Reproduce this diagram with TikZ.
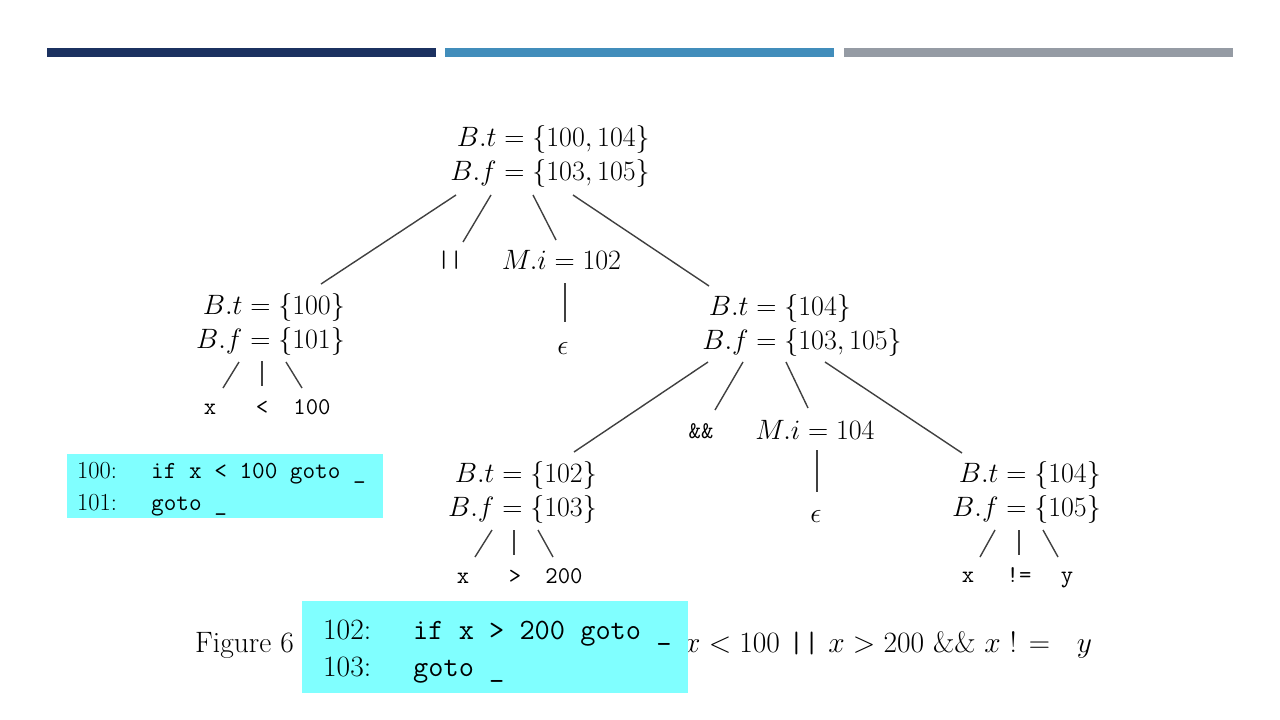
\RequirePackage{fix-cm}
\documentclass[tikz,border=0pt]{standalone}
\usetikzlibrary{calc}
\definecolor{barnavy}{HTML}{1B3160}
\definecolor{barblue}{HTML}{418DBB}
\definecolor{bargray}{HTML}{959BA4}
\definecolor{boxcyan}{HTML}{80FFFF}
\begin{document}
\begin{tikzpicture}[x=1pt,y=-1pt,
  attr/.style={inner sep=0pt, font=\fontsize{28}{34}\selectfont},
  leaf/.style={inner sep=0pt, text height=14.6pt, text depth=0pt, font=\ttfamily\fontsize{24}{28}\selectfont},
  edge/.style={draw=black!75, line width=1.4pt},
  codetxt/.style={inner sep=0pt, anchor=base west, font=\fontsize{24.5}{28}\selectfont},
  bigcode/.style={inner sep=0pt, anchor=base west, font=\fontsize{29.5}{34}\selectfont},
  captxt/.style={inner sep=0pt, anchor=base west, font=\fontsize{29.5}{34}\selectfont},
]
\useasboundingbox (0,0) rectangle (1280,720);
\fill[white] (0,0) rectangle (1280,720);
% header bars
\fill[barnavy] (47,48) rectangle (436,57);
\fill[barblue] (445,48) rectangle (834,57);
\fill[bargray] (844,48) rectangle (1233,57);

% tree nodes
\node[attr] (root) at (550,157) {$\begin{array}{@{}r@{}l@{}} B.t & {}=\{100,104\}\\ B.f & {}=\{103,105\}\end{array}$};
\node[attr] (L) at (270.5,325) {$\begin{array}{@{}r@{}l@{}} B.t & {}=\{100\}\\ B.f & {}=\{101\}\end{array}$};
\node[attr] (R) at (802,325.5) {$\begin{array}{@{}r@{}l@{}} B.t & {}=\{104\}\\ B.f & {}=\{103,105\}\end{array}$};
\node[attr] (N1) at (522.5,492.5) {$\begin{array}{@{}r@{}l@{}} B.t & {}=\{102\}\\ B.f & {}=\{103\}\end{array}$};
\node[attr] (N2) at (1026.5,493) {$\begin{array}{@{}r@{}l@{}} B.t & {}=\{104\}\\ B.f & {}=\{105\}\end{array}$};
\node[leaf] (or) at (450,260) {||};
\node[attr] (M1) at (561.5,260) {$M.i=102$};
\node[attr] (e1) at (563,348) {$\epsilon$};
\node[leaf] (and) at (701,431) {\&\&};
\node[attr] (M2) at (815,430) {$M.i=104$};
\node[attr] (e2) at (816,516) {$\epsilon$};
\node[leaf] (Lx) at (210,407) {x};
\node[leaf] (Llt) at (262,407) {<};
\node[leaf] (Lnum) at (312,407) {100};
\node[leaf] (N1x) at (463,576) {x};
\node[leaf] (N1gt) at (515,576) {>};
\node[leaf] (N1num) at (564,576) {200};
\node[leaf] (N2x) at (968,575) {x};
\node[leaf] (N2ne) at (1019,575) {!=};
\node[leaf] (N2y) at (1067,575) {y};

% connectors
\draw[edge] ($(root)+(-94,38)$) -- ($(L)+(50.5,-41)$);
\draw[edge] ($(root)+(-59,38)$) -- ($(or)+(13,-18)$);
\draw[edge] ($(root)+(-17,38)$) -- ($(M1)+(-5.5,-20)$);
\draw[edge] ($(root)+(23,38)$) -- ($(R)+(-93,-39.5)$);
\draw[edge] ($(M1)+(3.5,23)$) -- ($(e1)+(2,-26)$);
\draw[edge] ($(L)+(-31.5,37)$) -- ($(Lx)+(13,-19)$);
\draw[edge] ($(L)+(-8.5,36)$) -- ($(Llt)+(0,-21)$);
\draw[edge] ($(L)+(15.5,37)$) -- ($(Lnum)+(-10,-19)$);
\draw[edge] ($(R)+(-94,36.5)$) -- ($(N1)+(51.5,-40.5)$);
\draw[edge] ($(R)+(-59,36.5)$) -- ($(and)+(14,-21)$);
\draw[edge] ($(R)+(-16,36.5)$) -- ($(M2)+(-7,-22)$);
\draw[edge] ($(R)+(23,36.5)$) -- ($(N2)+(-64.5,-40)$);
\draw[edge] ($(M2)+(2,20)$) -- ($(e2)+(1,-24)$);
\draw[edge] ($(N1)+(-30.5,37.5)$) -- ($(N1x)+(12,-19)$);
\draw[edge] ($(N1)+(-8.5,37.5)$) -- ($(N1gt)+(-1,-21)$);
\draw[edge] ($(N1)+(15.5,37.5)$) -- ($(N1num)+(-11,-19)$);
\draw[edge] ($(N2)+(-31.5,37)$) -- ($(N2x)+(12,-18)$);
\draw[edge] ($(N2)+(-7.5,37)$) -- ($(N2ne)+(0,-20)$);
\draw[edge] ($(N2)+(16.5,37)$) -- ($(N2y)+(-9,-18)$);

% caption (partly covered)
\node[captxt] (capl) at (195,652) {Figure 6};
\node[captxt] (capr) at (684,652) {$x<100$ {\ttfamily||} $x>200$ \&\& $x$ ! = \ \ $y$};

% code box 1
\fill[boxcyan] (67,454) rectangle (383,518);
\node[codetxt] (c100) at (77,478) {100:};
\node[codetxt] (c100b) at (151,478) {\ttfamily if x < 100 goto \_};
\node[codetxt] (c101) at (77,510) {101:};
\node[codetxt] (c101b) at (151,510) {\ttfamily goto \_};

% code box 2
\fill[boxcyan] (302,601) rectangle (688,693);
\node[bigcode] (c102) at (323,639) {102:};
\node[bigcode] (c102b) at (413,639) {\ttfamily if x > 200 goto \_};
\node[bigcode] (c103) at (323,676) {103:};
\node[bigcode] (c103b) at (413,676) {\ttfamily goto \_};
\end{tikzpicture}
\end{document}
